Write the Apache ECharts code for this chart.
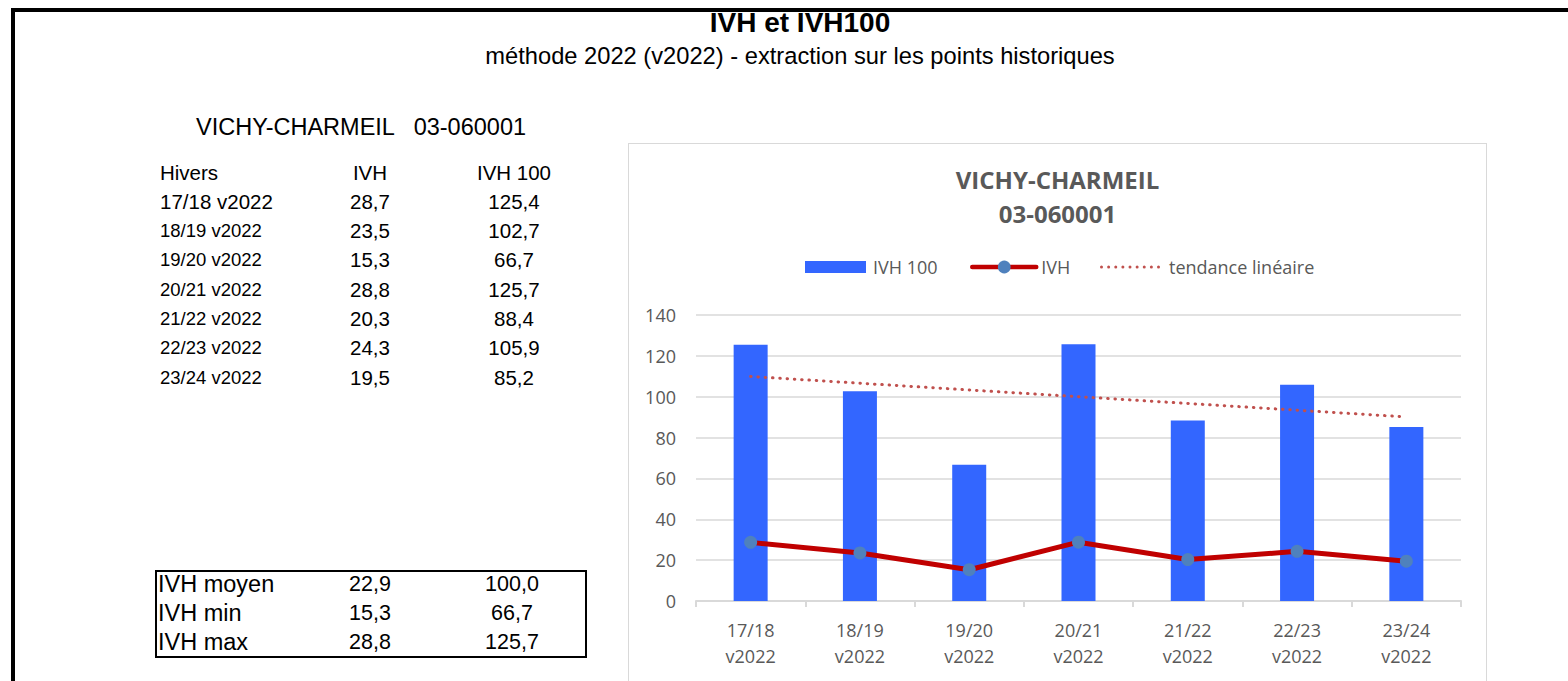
<!DOCTYPE html>
<html>
<head>
<meta charset="utf-8">
<script src="https://cdn.jsdelivr.net/npm/echarts@6/dist/echarts.min.js"></script>
<style>
  html, body { margin: 0; padding: 0; background: #fff; width: 1568px; height: 681px; overflow: hidden; }
  #frame { position: absolute; left: 11px; top: 8px; width: 1600px; height: 700px; border-top: 4px solid #000; border-left: 4px solid #000; box-sizing: border-box; }
  .t { position: absolute; font-family: "Liberation Sans", Arial, sans-serif; color: #000; white-space: pre; line-height: 1; }
  #chartbox { position: absolute; left: 628px; top: 143px; width: 859px; height: 560px; border: 1px solid #D9D9D9; box-sizing: border-box; }
  #chart { position: absolute; left: 629px; top: 144px; width: 857px; height: 537px; }
  #statbox { position: absolute; left: 155px; top: 570px; width: 432px; height: 88px; border: 2px solid #000; box-sizing: border-box; }
</style>
</head>
<body>
<div id="frame"></div>
<div id="chartbox"></div>
<div id="statbox"></div>
<div id="texts"></div>
<div id="chart"></div>
<script>
// ---- data ----
const mainTitle = 'IVH et IVH100';
const subTitle = 'méthode 2022 (v2022) - extraction sur les points historiques';
const station = 'VICHY-CHARMEIL';
const stationCode = '03-060001';
const tableHeaders = ['Hivers', 'IVH', 'IVH 100'];
const winters = ['17/18 v2022', '18/19 v2022', '19/20 v2022', '20/21 v2022', '21/22 v2022', '22/23 v2022', '23/24 v2022'];
const categories = ['17/18\nv2022', '18/19\nv2022', '19/20\nv2022', '20/21\nv2022', '21/22\nv2022', '22/23\nv2022', '23/24\nv2022'];
const ivh = [28.7, 23.5, 15.3, 28.8, 20.3, 24.3, 19.5];
const ivh100 = [125.4, 102.7, 66.7, 125.7, 88.4, 105.9, 85.2];
const trend = [109.9, 106.6, 103.3, 100.0, 96.7, 93.4, 90.1];
const statLabels = ['IVH moyen', 'IVH min', 'IVH max'];
const statIvh = [22.9, 15.3, 28.8];
const statIvh100 = [100.0, 66.7, 125.7];
const seriesNames = ['IVH 100', 'IVH', 'tendance linéaire'];
const yMin = 0, yMax = 140, yStep = 20;

// ---- text layout ----
const fmt = v => v.toFixed(1).replace('.', ',');
const tc = document.getElementById('texts');
function addText(str, x, yc, size, opts) {
  opts = opts || {};
  const d = document.createElement('div');
  d.className = 't';
  d.textContent = str;
  d.style.fontSize = size + 'px';
  d.style.top = (yc - size / 2) + 'px';
  d.style.height = size + 'px';
  if (opts.bold) d.style.fontWeight = 'bold';
  if (opts.center) {
    d.style.left = (x - 600) + 'px';
    d.style.width = '1200px';
    d.style.textAlign = 'center';
  } else {
    d.style.left = x + 'px';
  }
  tc.appendChild(d);
}
addText(mainTitle, 800, 23, 28, { bold: true, center: true });
addText(subTitle, 800, 57, 23.7, { center: true });
addText(station + '   ' + stationCode, 196, 128, 23.5);
const colIvh = 370, colIvh100 = 514;
addText(tableHeaders[0], 160, 173, 20.5);
addText(tableHeaders[1], colIvh, 173, 20.5, { center: true });
addText(tableHeaders[2], colIvh100, 173, 20.5, { center: true });
winters.forEach((w, i) => {
  const y = 202 + i * 29.3;
  addText(w, 160, y, i === 0 ? 20.5 : 18.5);
  addText(fmt(ivh[i]), colIvh, y, 20.5, { center: true });
  addText(fmt(ivh100[i]), colIvh100, y, 20.5, { center: true });
});
statLabels.forEach((s, i) => {
  const y = 584.5 + i * 29.2;
  addText(s, 158, y, 23.5);
  addText(fmt(statIvh[i]), colIvh, y, 21.5, { center: true });
  addText(fmt(statIvh100[i]), colIvh100 - 2, y, 21.5, { center: true });
});

// ---- chart ----
const chart = echarts.init(document.getElementById('chart'), null, { renderer: 'svg' });
const gray = '#595959';
const font = '"Open Sans", sans-serif';
function legendText(padLeft) {
  return { fontFamily: font, fontSize: 18, color: gray, lineHeight: 20, padding: [0, 0, 0, padLeft] };
}
// dotted icon for the trend legend (9 round dots)
let dots = 'path://';
for (let k = 0; k < 9; k++) {
  const x = k * 7.125;
  dots += 'M' + x + ',1.5a1.5,1.5 0 1,0 3,0a1.5,1.5 0 1,0 -3,0z';
}
chart.setOption({
  animation: false,
  title: {
    text: station + '\n' + stationCode,
    left: 'center',
    top: 13,
    textStyle: { fontFamily: font, fontSize: 24, fontWeight: 'bold', color: gray, lineHeight: 34 }
  },
  legend: [
    {
      left: 176, top: 113, padding: 0, itemWidth: 61, itemHeight: 12,
      textStyle: legendText(2),
      data: [{ name: seriesNames[0], icon: 'rect' }]
    },
    {
      left: 341, top: 113, padding: 0, itemWidth: 64, itemHeight: 16,
      textStyle: legendText(0),
      lineStyle: { width: 4.5, color: '#C00000', cap: 'round' },
      data: [{ name: seriesNames[1] }]
    },
    {
      left: 471, top: 113, padding: 0, itemWidth: 60, itemHeight: 3,
      textStyle: legendText(4),
      data: [{ name: seriesNames[2], icon: dots, itemStyle: { color: '#C0504D' } }]
    }
  ],
  grid: { left: 67, top: 171, width: 765, height: 286, containLabel: false },
  xAxis: {
    type: 'category',
    data: categories,
    axisLine: { lineStyle: { color: '#D9D9D9', width: 2 } },
    axisTick: { show: true, length: 6, lineStyle: { color: '#D9D9D9', width: 2 } },
    axisLabel: { fontFamily: font, fontSize: 18, color: gray, lineHeight: 26, margin: 16 }
  },
  yAxis: {
    type: 'value',
    min: yMin, max: yMax, interval: yStep,
    axisLine: { show: false },
    axisTick: { show: false },
    splitLine: { lineStyle: { color: '#D9D9D9', width: 1.5 } },
    axisLabel: { fontFamily: font, fontSize: 18, color: gray, margin: 20 }
  },
  series: [
    {
      name: seriesNames[0], type: 'bar', data: ivh100, barWidth: 34,
      itemStyle: { color: '#3366FF' }, z: 2
    },
    {
      name: seriesNames[1], type: 'line', data: ivh,
      symbol: 'circle', symbolSize: 13,
      itemStyle: { color: '#4F81BD', borderWidth: 0 },
      lineStyle: { color: '#C00000', width: 5 },
      z: 3
    },
    {
      name: seriesNames[2], type: 'line', data: trend,
      symbol: 'none', showSymbol: false,
      itemStyle: { color: '#C0504D' },
      lineStyle: { color: '#C0504D', width: 3, type: [0.5, 6.8], cap: 'round' },
      z: 4
    }
  ]
});
</script>
</body>
</html>
